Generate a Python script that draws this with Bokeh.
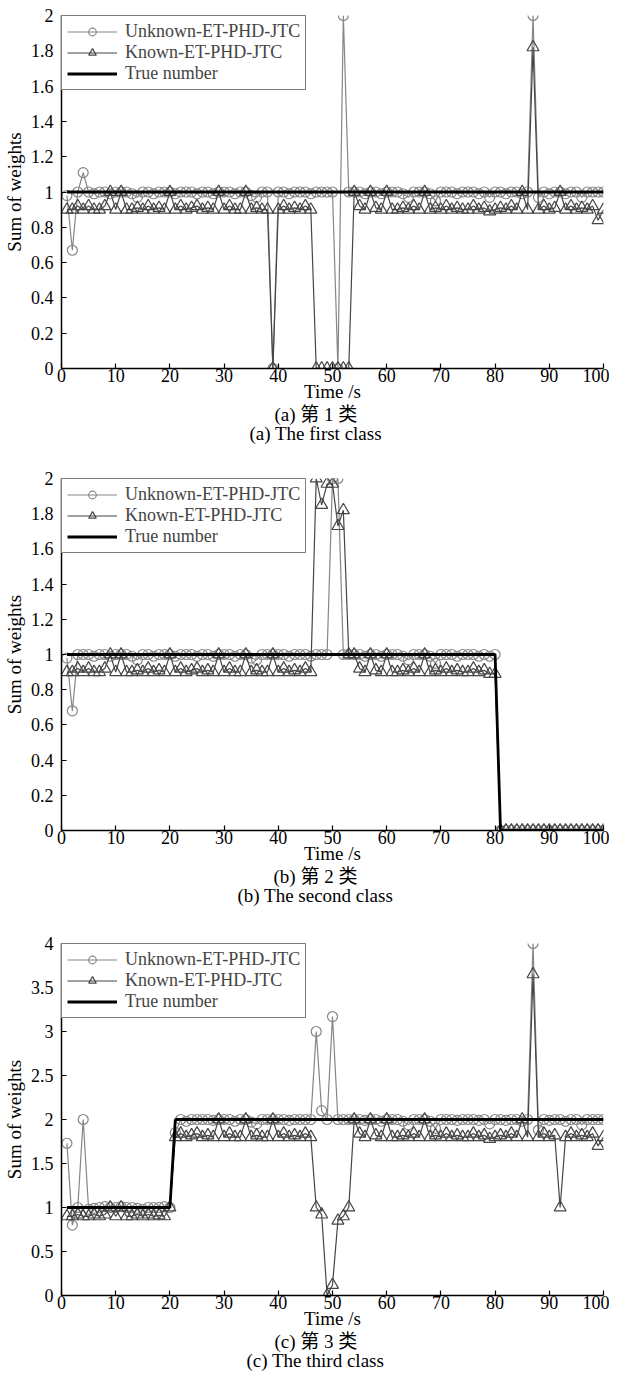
from bokeh.plotting import figure
from bokeh.layouts import column
from bokeh.models import (Range1d, FixedTicker, NumeralTickFormatter, Legend,
                          LegendItem, Title)
from bokeh.embed import file_html
from bokeh.resources import INLINE

time_s = list(range(1, 101))

# ---------------- class 1 ----------------
unknown_1 = [0.98, 0.67, 1.0, 1.11, 1.0, 0.99, 1.0, 1.0, 0.99, 1.0,
             1.0, 1.0, 0.99, 0.97, 1.0, 1.0, 0.99, 1.0, 1.0, 1.0,
             0.99, 1.0, 1.0, 1.0, 0.99, 1.0, 1.0, 0.99, 1.0, 1.0,
             1.0, 0.99, 1.0, 1.0, 0.98, 0.97, 1.0, 1.0, 0.0, 1.0,
             1.0, 0.99, 1.0, 1.0, 1.0, 0.99, 1.0, 1.0, 1.0, 1.0,
             0.0, 2.0, 1.0, 1.0, 1.0, 0.99, 1.0, 1.0, 0.99, 1.0,
             1.0, 1.0, 0.99, 0.97, 1.0, 1.0, 1.0, 0.99, 0.95, 1.0,
             1.0, 1.0, 0.99, 1.0, 1.0, 1.0, 0.99, 1.0, 0.97, 1.0,
             1.0, 0.99, 1.0, 1.0, 0.99, 1.0, 2.0, 0.97, 1.0, 0.99,
             1.0, 1.0, 0.99, 1.0, 1.0, 0.97, 1.0, 1.0, 1.0, 1.0]
known_1 = [0.90, 0.90, 0.92, 0.90, 0.92, 0.90, 0.90, 0.92, 1.00, 0.90,
           1.00, 0.90, 0.90, 0.91, 0.90, 0.92, 0.90, 0.91, 0.90, 1.00,
           0.90, 0.92, 0.90, 0.91, 0.92, 0.90, 0.91, 0.90, 1.00, 0.90,
           0.92, 0.90, 0.90, 1.00, 0.90, 0.91, 0.90, 0.90, 0.00, 0.90,
           0.92, 0.90, 0.91, 0.90, 0.92, 0.90, 0.00, 0.00, 0.00, 0.00,
           0.00, 0.00, 0.00, 1.00, 0.92, 0.90, 1.00, 0.91, 0.90, 1.00,
           0.90, 0.90, 0.91, 0.90, 0.92, 0.90, 1.00, 0.90, 0.91, 0.90,
           0.92, 0.90, 0.91, 0.90, 0.90, 0.92, 0.90, 0.91, 0.89, 0.90,
           0.91, 0.90, 0.92, 0.90, 1.00, 0.90, 1.82, 0.90, 0.92, 0.90,
           0.91, 1.00, 0.90, 0.92, 0.90, 0.91, 0.90, 0.92, 0.84, 0.90]
true_1 = [1] * 100

# ---------------- class 2 ----------------
unknown_2 = [0.98, 0.68, 1.0, 1.0, 1.0, 0.99, 1.0, 1.0, 0.99, 1.0,
             1.0, 1.0, 0.99, 0.97, 1.0, 1.0, 0.99, 1.0, 1.0, 1.0,
             0.99, 1.0, 1.0, 1.0, 0.99, 1.0, 1.0, 0.99, 1.0, 1.0,
             1.0, 0.99, 1.0, 1.0, 0.98, 0.97, 1.0, 1.0, 1.0, 1.0,
             1.0, 0.99, 1.0, 1.0, 1.0, 0.99, 1.0, 1.0, 1.0, 2.0,
             2.0, 1.0, 1.0, 1.0, 1.0, 0.99, 1.0, 1.0, 0.99, 1.0,
             1.0, 1.0, 0.99, 0.97, 1.0, 1.0, 1.0, 0.99, 0.95, 1.0,
             1.0, 1.0, 0.99, 1.0, 1.0, 1.0, 0.99, 1.0, 0.99, 1.0,
             0.0, 0.0, 0.0, 0.0, 0.0, 0.0, 0.0, 0.0, 0.0, 0.0,
             0.0, 0.0, 0.0, 0.0, 0.0, 0.0, 0.0, 0.0, 0.0, 0.0]
known_2 = [0.90, 0.90, 0.92, 0.90, 0.92, 0.90, 0.90, 0.92, 1.00, 0.90,
           1.00, 0.90, 0.90, 0.91, 0.90, 0.92, 0.90, 0.91, 0.90, 1.00,
           0.90, 0.92, 0.90, 0.91, 0.92, 0.90, 0.91, 0.90, 1.00, 0.90,
           0.92, 0.90, 0.90, 1.00, 0.90, 0.91, 0.90, 0.90, 1.00, 0.90,
           0.92, 0.90, 0.91, 0.90, 0.92, 0.90, 2.00, 1.85, 1.97, 1.97,
           1.73, 1.82, 1.00, 1.00, 0.92, 0.90, 1.00, 0.91, 0.90, 1.00,
           0.90, 0.90, 0.91, 0.90, 0.92, 0.90, 1.00, 0.90, 0.91, 0.90,
           0.92, 0.90, 0.91, 0.90, 0.90, 0.92, 0.90, 0.91, 0.89, 0.89,
           0.0, 0.0, 0.0, 0.0, 0.0, 0.0, 0.0, 0.0, 0.0, 0.0,
           0.0, 0.0, 0.0, 0.0, 0.0, 0.0, 0.0, 0.0, 0.0, 0.0]
true_2 = [1] * 80 + [0] * 20

# ---------------- class 3 ----------------
unknown_3 = [1.73, 0.80, 1.0, 2.0, 0.98, 0.99, 1.0, 1.01, 1.0, 1.0,
             1.01, 1.0, 1.0, 0.99, 0.98, 1.0, 1.0, 1.0, 1.01, 1.0,
             1.85, 2.0, 1.98, 2.0, 2.0, 2.0, 2.0, 1.99, 2.0, 2.0,
             2.0, 1.98, 2.0, 2.0, 1.97, 1.95, 2.0, 2.0, 2.0, 2.0,
             2.0, 1.99, 2.0, 2.0, 2.0, 2.0, 3.0, 2.1, 2.0, 3.17,
             2.0, 2.0, 2.0, 2.0, 2.0, 1.99, 2.0, 2.0, 1.98, 2.0,
             2.0, 2.0, 1.98, 1.94, 2.0, 2.0, 2.0, 1.98, 1.90, 2.0,
             2.0, 2.0, 1.99, 2.0, 2.0, 2.0, 1.99, 2.0, 1.95, 2.0,
             2.0, 1.99, 2.0, 2.0, 1.98, 2.0, 4.0, 1.88, 2.0, 1.99,
             2.0, 2.0, 1.98, 2.0, 2.0, 1.94, 2.0, 2.0, 2.0, 2.0]
known_3 = [0.90, 0.90, 0.92, 0.90, 0.90, 0.92, 0.90, 0.92, 1.00, 0.90,
           1.00, 0.90, 0.90, 0.92, 0.90, 0.92, 0.90, 0.91, 0.90, 1.00,
           1.80, 1.84, 1.80, 1.82, 1.84, 1.80, 1.82, 1.80, 2.00, 1.80,
           1.84, 1.80, 1.80, 2.00, 1.80, 1.82, 1.80, 1.80, 2.00, 1.80,
           1.84, 1.80, 1.82, 1.80, 1.84, 1.80, 1.00, 0.92, 0.00, 0.12,
           0.85, 0.90, 1.00, 2.00, 1.84, 1.80, 2.00, 1.82, 1.80, 2.00,
           1.80, 1.80, 1.82, 1.80, 1.84, 1.80, 2.00, 1.80, 1.82, 1.80,
           1.84, 1.80, 1.82, 1.80, 1.80, 1.84, 1.80, 1.82, 1.78, 1.80,
           1.82, 1.80, 1.84, 1.80, 2.00, 1.80, 3.65, 1.80, 1.84, 1.80,
           1.82, 1.00, 1.80, 1.84, 1.80, 1.82, 1.80, 1.84, 1.70, 1.80]
true_3 = [1] * 20 + [2] * 80

x_ticks = [0, 10, 20, 30, 40, 50, 60, 70, 80, 90, 100]
y_ticks_12 = [0, 0.2, 0.4, 0.6, 0.8, 1.0, 1.2, 1.4, 1.6, 1.8, 2.0]
y_ticks_3 = [0, 0.5, 1.0, 1.5, 2.0, 2.5, 3.0, 3.5, 4.0]

captions_cn = ["(a) 第 1 类", "(b) 第 2 类", "(c) 第 3 类"]
captions_en = ["(a) The first class", "(b) The second class", "(c) The third class"]
series_names = ["Unknown-ET-PHD-JTC", "Known-ET-PHD-JTC", "True number"]

SERIF = "Liberation Serif"
MIXED = "Liberation Serif, Noto Sans CJK SC"
C_UNK = "#868686"
C_KNO = "#454545"
CAP_SIZE = 19
CAP_CENTER = 254  # px from frame left


def caption_offset(text):
    # approximate Times-metric width of the caption to centre it at CAP_CENTER
    widths = {"(": .333, ")": .333, " ": .25, "a": .444, "b": .5, "c": .444,
              "T": .611, "h": .5, "e": .444, "f": .333, "i": .278, "r": .333,
              "s": .389, "t": .278, "l": .278, "o": .5, "n": .5, "d": .5,
              "1": .5, "2": .5, "3": .5}
    w = sum(widths.get(ch, 1.0) for ch in text) * CAP_SIZE
    return int(round(CAP_CENTER - w / 2))


def make_panel(unk, kno, tru, ymax, yticks, cap_cn, cap_en, height, top, bottom):
    p = figure(width=609, height=height, output_backend="svg", toolbar_location=None,
               x_range=Range1d(0, 100), y_range=Range1d(0, ymax),
               min_border_left=53, min_border_right=6, min_border_top=top,
               min_border_bottom=bottom, outline_line_color=None,
               background_fill_color="white", border_fill_color="white")
    p.styles = {"max-width": "none", "flex-shrink": "0", "min-width": "609px"}
    p.grid.visible = False

    lu = p.line(time_s, unk, line_color=C_UNK, line_width=1.2)
    su = p.scatter(time_s, unk, marker="circle", size=10, fill_color=None,
                   line_color=C_UNK, line_width=1.2)
    lk = p.line(time_s, kno, line_color=C_KNO, line_width=1.2)
    sk = p.scatter(time_s, kno, marker="triangle", size=12, fill_color=None,
                   line_color=C_KNO, line_width=1.2)
    lt = p.line(time_s, tru, line_color="black", line_width=2.8)

    legend = Legend(items=[LegendItem(label=series_names[0], renderers=[lu, su]),
                           LegendItem(label=series_names[1], renderers=[lk, sk]),
                           LegendItem(label=series_names[2], renderers=[lt])],
                    location="top_left", margin=0, padding=5, spacing=0,
                    glyph_width=50, glyph_height=19, label_height=19,
                    label_standoff=8, label_text_font=SERIF,
                    label_text_font_size="18px", border_line_color="black",
                    border_line_width=1.5, background_fill_color="white",
                    background_fill_alpha=1.0)
    p.add_layout(legend)

    for ax in (p.xaxis[0], p.yaxis[0]):
        ax.axis_line_color = "black"
        ax.axis_line_width = 1.5
        ax.major_tick_in = 5
        ax.major_tick_out = 0
        ax.minor_tick_line_color = None
        ax.major_tick_line_color = "black"
        ax.major_tick_line_width = 1.2
        ax.major_label_text_font = SERIF
        ax.major_label_text_font_size = "18px"
        ax.major_label_text_color = "black"
        ax.axis_label_text_font = SERIF
        ax.axis_label_text_font_size = "19px"
        ax.axis_label_text_font_style = "normal"
        ax.axis_label_text_color = "black"

    p.xaxis.ticker = FixedTicker(ticks=x_ticks)
    p.yaxis.ticker = FixedTicker(ticks=yticks)
    p.xaxis.formatter = NumeralTickFormatter(format="0.[0]")
    p.yaxis.formatter = NumeralTickFormatter(format="0.[0]")
    p.xaxis.major_label_standoff = 0
    p.yaxis.major_label_standoff = 8
    p.xaxis.axis_label = "Time /s"
    p.xaxis.axis_label_standoff = -4
    p.yaxis.axis_label = "Sum of weights"
    p.yaxis.axis_label_standoff = 3

    p.add_layout(Title(text=cap_cn, align="left", offset=caption_offset(cap_cn),
                       text_font=MIXED, text_font_size=f"{CAP_SIZE}px",
                       text_font_style="normal", text_color="black", standoff=-5),
                 "below")
    p.add_layout(Title(text=cap_en, align="left", offset=caption_offset(cap_en),
                       text_font=SERIF, text_font_size=f"{CAP_SIZE}px",
                       text_font_style="normal", text_color="black", standoff=-3),
                 "below")
    return p


p1 = make_panel(unknown_1, known_1, true_1, 2, y_ticks_12, captions_cn[0], captions_en[0], 468, 15, 100)
p2 = make_panel(unknown_2, known_2, true_2, 2, y_ticks_12, captions_cn[1], captions_en[1], 465, 10, 103)
p3 = make_panel(unknown_3, known_3, true_3, 4, y_ticks_3, captions_cn[2], captions_en[2], 452, 10, 90)

layout = column(p1, p2, p3, spacing=0)
layout.styles = {"max-width": "none", "min-width": "609px"}
open("out.html", "w").write(file_html(layout, INLINE))
